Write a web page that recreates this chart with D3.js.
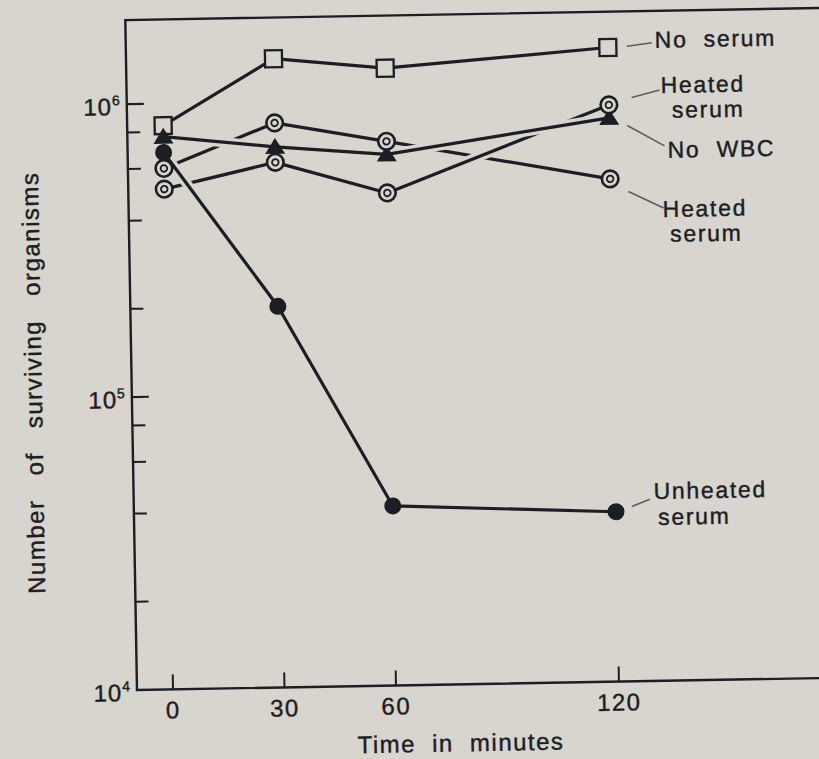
<!DOCTYPE html>
<html lang="en">
<head>
<meta charset="UTF-8">
<title>Surviving organisms</title>
<script src="https://cdn.jsdelivr.net/npm/d3@7"></script>
<style>
  body { margin: 0; background: #d7d5cd; }
  svg { display: block; }
  text { font-family: "Liberation Sans", Arial, sans-serif; fill: #1d1d24; stroke: #1d1d24; stroke-width: 0.4px; }
</style>
</head>
<body>
<div id="chart"></div>
<script>
    // values (organisms per ml, log scale)
    var times = [0, 30, 60, 120];
    var noSerum = [8.4e5, 1.40e6, 1.28e6, 1.46e6];
    var heatedSerumTop = [5.1e5, 6.2e5, 4.8e5, 9.3e5];
    var noWBC = [7.7e5, 7.0e5, 6.5e5, 8.4e5];
    var heatedSerumLow = [6.0e5, 8.45e5, 7.2e5, 5.2e5];
    var unheatedSerum = [6.8e5, 2.0e5, 4.1e4, 3.8e4];

    var xTicks = [0, 30, 60, 120];
    var yMajor = [1e4, 1e5, 1e6];
    var yMinor = [2e4, 4e4, 6e4, 8e4, 2e5, 4e5, 6e5, 8e5];
    var xTitle = "Time in minutes";
    var yTitle = "Number of surviving organisms";

    // drawing order matters: later lines cut a small gap in earlier ones
    var series = [
        {key: "heatedLow", values: heatedSerumLow, marker: "ring", label: ["Heated", "serum"]},
        {key: "heatedTop", values: heatedSerumTop, marker: "ring", label: ["Heated", "serum"]},
        {key: "noWBC", values: noWBC, marker: "triangle", label: ["No WBC"]},
        {key: "unheated", values: unheatedSerum, marker: "dot", label: ["Unheated", "serum"]},
        {key: "noSerum", values: noSerum, marker: "square", label: ["No serum"]}
    ];

    // label placement, offsets from the last point of each series
    var labelPos = {
        noSerum:   {lead: [19, -1, 44, -4],  text: [[47, 1]]},
        heatedTop: {lead: [23, -7, 51, -14], text: [[52, -11], [63, 14]]},
        noWBC:     {lead: [18, 8, 55, 29],   text: [[58, 41]]},
        heatedLow: {lead: [18, 13, 53, 30],  text: [[52, 39], [59, 64]]},
        unheated:  {lead: [16, -5, 34, -12], text: [[38, -12], [42, 14]]}
    };

    var W = 819, H = 759;
    var bg = "#d7d5cd", ink = "#1d1d24";
    var axisLeft = 137, frameTop = 20, axisBottom = 690, frameRight = 900;

    var x = d3.scaleLinear().domain([0, 120]).range([173, 619]);
    var y = d3.scaleLog().domain([1e4, 1e6]).range([axisBottom, 104]);

    var svg = d3.select("#chart").append("svg")
        .attr("width", W)
        .attr("height", H);

    svg.append("rect").attr("width", W).attr("height", H).attr("fill", bg);

    // the printed page sits slightly tilted in the photo
    var g = svg.append("g").attr("transform", "rotate(-1," + axisLeft + "," + axisBottom + ")");

    // frame
    g.append("path")
        .attr("d", "M" + frameRight + "," + frameTop + "H" + axisLeft + "V" + axisBottom + "H" + frameRight)
        .attr("fill", "none")
        .attr("stroke", ink)
        .attr("stroke-width", 2.4);

    // y ticks, pointing inwards
    g.selectAll("line.ymaj").data(yMajor.filter(d => d > 1e4)).enter().append("line")
        .attr("x1", axisLeft).attr("x2", axisLeft + 17)
        .attr("y1", d => y(d)).attr("y2", d => y(d))
        .attr("stroke", ink).attr("stroke-width", 2.2);
    g.selectAll("line.ymin").data(yMinor).enter().append("line")
        .attr("x1", axisLeft).attr("x2", axisLeft + 13)
        .attr("y1", d => y(d)).attr("y2", d => y(d))
        .attr("stroke", ink).attr("stroke-width", 2);

    var yLab = g.selectAll("text.ylab").data(yMajor).enter().append("text")
        .attr("x", 131)
        .attr("y", d => y(d) + 11)
        .attr("text-anchor", "end")
        .style("font-size", "24px")
        .style("letter-spacing", "1px");
    yLab.append("tspan").text("10");
    yLab.append("tspan")
        .attr("dy", -10)
        .style("font-size", "14px")
        .text(d => Math.round(Math.log10(d)));

    // x ticks, pointing up
    g.selectAll("line.xt").data(xTicks).enter().append("line")
        .attr("x1", d => x(d)).attr("x2", d => x(d))
        .attr("y1", axisBottom).attr("y2", axisBottom - 15)
        .attr("stroke", ink).attr("stroke-width", 2);

    g.selectAll("text.xlab").data(xTicks).enter().append("text")
        .attr("x", d => x(d))
        .attr("y", 719)
        .attr("text-anchor", "middle")
        .style("font-size", "24px")
        .style("letter-spacing", "1.5px")
        .text(d => d);

    g.append("text")
        .attr("x", 460).attr("y", 757)
        .attr("text-anchor", "middle")
        .style("font-size", "24px")
        .style("letter-spacing", "1.5px")
        .style("word-spacing", "8px")
        .text(xTitle);

    g.append("text")
        .attr("transform", "translate(47,381) rotate(-90)")
        .attr("text-anchor", "middle")
        .style("font-size", "24px")
        .style("letter-spacing", "1.5px")
        .style("word-spacing", "16px")
        .text(yTitle);

    // lines
    var line = d3.line()
        .x((d, i) => x(times[i]))
        .y(d => y(d));

    series.forEach(function(s) {
        var pts = s.values.map((v, i) => [x(times[i]), y(v)]);
        var segs = [];
        for (var i = 0; i < pts.length - 1; i++) {
            var a = pts[i], b = pts[i + 1];
            var dx = b[0] - a[0], dy = b[1] - a[1];
            var len = Math.sqrt(dx * dx + dy * dy);
            var ux = dx / len, uy = dy / len, cut = 12;
            segs.push([a[0] + ux * cut, a[1] + uy * cut, b[0] - ux * cut, b[1] - uy * cut]);
        }
        // paper-coloured halo so crossings show a break like the print
        g.selectAll(null).data(segs).enter().append("line")
            .attr("x1", d => d[0]).attr("y1", d => d[1])
            .attr("x2", d => d[2]).attr("y2", d => d[3])
            .attr("stroke", bg)
            .attr("stroke-width", 10);
        g.append("path")
            .datum(s.values)
            .attr("d", line)
            .attr("fill", "none")
            .attr("stroke", ink)
            .attr("stroke-width", 3.2)
            .attr("stroke-linejoin", "round");
    });

    // markers
    function points(kind) {
        var out = [];
        series.filter(s => s.marker == kind).forEach(function(s) {
            s.values.forEach((v, i) => out.push({t: times[i], v: v}));
        });
        return out;
    }

    g.selectAll("rect.sq").data(points("square")).enter().append("rect")
        .attr("x", d => x(d.t) - 8.5).attr("y", d => y(d.v) - 8.5)
        .attr("width", 17).attr("height", 17)
        .attr("fill", bg).attr("stroke", ink).attr("stroke-width", 2.3);

    g.selectAll("path.tri").data(points("triangle")).enter().append("path")
        .attr("d", "M0,-9L10,7L-10,7Z")
        .attr("transform", d => "translate(" + x(d.t) + "," + y(d.v) + ")")
        .attr("fill", ink);

    g.selectAll("circle.dot").data(points("dot")).enter().append("circle")
        .attr("cx", d => x(d.t)).attr("cy", d => y(d.v))
        .attr("r", 8.5)
        .attr("fill", ink);

    var rings = g.selectAll("g.ring").data(points("ring")).enter().append("g")
        .attr("transform", d => "translate(" + x(d.t) + "," + y(d.v) + ")");
    rings.append("circle").attr("r", 8.3)
        .attr("fill", bg).attr("stroke", ink).attr("stroke-width", 2.6);
    rings.append("circle").attr("r", 3.3)
        .attr("fill", bg).attr("stroke", ink).attr("stroke-width", 1.8);

    // series labels with leader lines
    series.forEach(function(s) {
        var p = labelPos[s.key];
        var last = s.values.length - 1;
        var px = x(times[last]), py = y(s.values[last]);
        g.append("line")
            .attr("x1", px + p.lead[0]).attr("y1", py + p.lead[1])
            .attr("x2", px + p.lead[2]).attr("y2", py + p.lead[3])
            .attr("stroke", "#5c5c60")
            .attr("stroke-width", 1.6);
        s.label.forEach(function(txt, j) {
            g.append("text")
                .attr("x", px + p.text[j][0])
                .attr("y", py + p.text[j][1])
                .style("font-size", "23px")
                .style("letter-spacing", "1.7px")
                .style("word-spacing", "8px")
                .text(txt);
        });
    });
</script>
</body>
</html>
